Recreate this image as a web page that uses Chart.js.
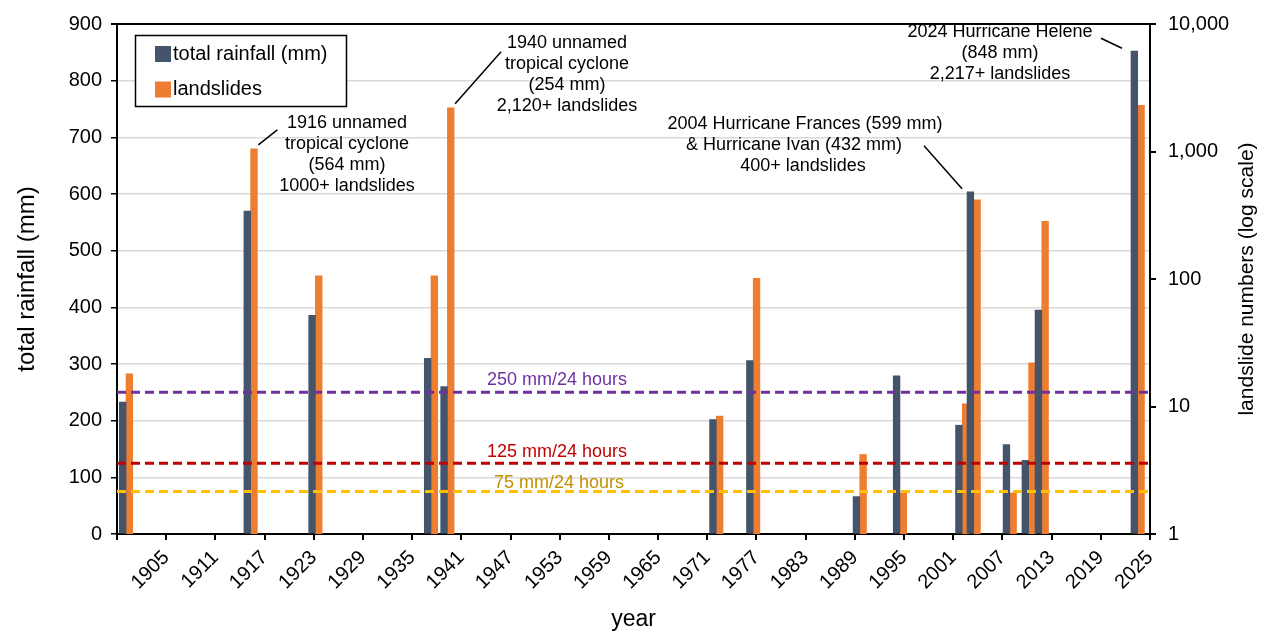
<!DOCTYPE html>
<html>
<head>
<meta charset="utf-8">
<script src="https://cdn.jsdelivr.net/npm/chart.js@4.4.1/dist/chart.umd.min.js"></script>
<style>
  html, body { margin: 0; padding: 0; background: #fff; }
  #wrap { width: 1261px; height: 631px; }
</style>
</head>
<body>
<div id="wrap"><canvas id="grafica" width="1261" height="631"></canvas></div>
<script>
// event years (position on the year axis)
var years = [1900.6, 1915.8, 1923.7, 1937.8, 1939.8, 1972.6, 1977.1, 1990.1, 1995.0, 2002.6, 2004.0, 2008.4, 2010.7, 2012.3, 2024.0];
// total rainfall in mm (left axis)
var rainfall = [233, 570, 386, 310, 260, 202, 306, 66, 279, 192, 604, 158, 130, 395, 852];
// landslide counts (right axis, log)
var landslides = [18, 1050, 106, 106, 2200, 8.4, 101, 4.2, 2.1, 10.5, 417, 2.1, 22, 283, 2307];

var yearLabels = [1905, 1911, 1917, 1923, 1929, 1935, 1941, 1947, 1953, 1959, 1965, 1971, 1977, 1983, 1989, 1995, 2001, 2007, 2013, 2019, 2025];
var rainTicks = [0, 100, 200, 300, 400, 500, 600, 700, 800, 900];
var slideTicks = [1, 10, 100, 1000, 10000];

var thresholds = [250, 125, 75];
var thresholdText = ["250 mm/24 hours", "125 mm/24 hours", "75 mm/24 hours"];

var FONT = '"Liberation Sans", Arial, sans-serif';
var firstYear = 1899.5;
var lastYear = 2025.5;

function pts(vals) {
    var out = [];
    for (var i = 0; i < years.length; i++) {
        out.push({x: years[i], y: vals[i]});
    }
    return out;
}

function flatLine(v) {
    return [{x: firstYear, y: v}, {x: lastYear, y: v}];
}

var lineColors = ["#7030A0", "#C00000", "#FFC000"];
var textColors = ["#7030A0", "#C00000", "#BF9000"];

// notes with leader lines
var notas = [
    {idx: 1, ds: 1, lines: ["1916 unnamed", "tropical cyclone", "(564 mm)", "1000+ landslides"],
     cx: [347, 347, 347, 347], y0: 123, from: "right", d: [1, -4], to: [19, -15]},
    {idx: 4, ds: 1, lines: ["1940 unnamed", "tropical cyclone", "(254 mm)", "2,120+ landslides"],
     cx: [567, 567, 567, 567], y0: 43, from: "right", d: [1, -4], to: [46, -52]},
    {idx: 10, ds: 0, lines: ["2004 Hurricane Frances (599 mm)", "& Hurricane Ivan (432 mm)", "400+ landslides"],
     cx: [805, 794, 803], y0: 124.5, from: "left", d: [-5, -3], to: [-38, -43]},
    {idx: 14, ds: 0, lines: ["2024 Hurricane Helene", "(848 mm)", "2,217+ landslides"],
     cx: [1000, 1000, 1000], y0: 32.5, from: "left", d: [-9, -3], to: [-21, -10]}
];

var extras = {
    id: "extras",
    afterDatasetsDraw: function (chart) {
        var ctx = chart.ctx;
        var ys = chart.scales.y;
        ctx.save();

        // threshold labels
        ctx.font = "18px " + FONT;
        ctx.textAlign = "center";
        ctx.textBaseline = "middle";
        var offs = [12, 11.5, 8];
        var cxs = [557, 557, 559];
        for (var i = 0; i < thresholds.length; i++) {
            ctx.fillStyle = textColors[i];
            ctx.fillText(thresholdText[i], cxs[i], ys.getPixelForValue(thresholds[i]) - offs[i]);
        }

        // notes
        ctx.fillStyle = "#000";
        for (var n = 0; n < notas.length; n++) {
            var nt = notas[n];
            for (var k = 0; k < nt.lines.length; k++) {
                ctx.fillText(nt.lines[k], nt.cx[k], nt.y0 + k * 21);
            }
            var el = chart.getDatasetMeta(nt.ds).data[nt.idx];
            var ex = nt.from == "right" ? el.x + el.width / 2 : el.x - el.width / 2;
            var sx = ex + nt.d[0];
            var sy = el.y + nt.d[1];
            ctx.beginPath();
            ctx.strokeStyle = "#000";
            ctx.lineWidth = 1.5;
            ctx.moveTo(sx, sy);
            ctx.lineTo(sx + nt.to[0], sy + nt.to[1]);
            ctx.stroke();
        }

        // legend box
        ctx.strokeStyle = "#000";
        ctx.lineWidth = 1.5;
        ctx.fillStyle = "#fff";
        ctx.fillRect(135.5, 35.5, 211, 71);
        ctx.strokeRect(135.5, 35.5, 211, 71);
        ctx.font = "20px " + FONT;
        ctx.textAlign = "left";
        var ds = chart.data.datasets;
        for (var j = 0; j < 2; j++) {
            var yy = 46 + j * 35.5;
            ctx.fillStyle = ds[j].backgroundColor;
            ctx.fillRect(155, yy, 16, 16);
            ctx.fillStyle = "#000";
            ctx.fillText(ds[j].label, 173, yy + 8);
        }
        ctx.restore();
    },
    afterDraw: function (chart) {
        var ctx = chart.ctx;
        var area = chart.chartArea;
        var midY = (area.top + area.bottom) / 2;
        ctx.save();
        ctx.fillStyle = "#000";
        ctx.font = "23px " + FONT;
        ctx.textAlign = "center";
        ctx.textBaseline = "middle";
        ctx.fillText("year", (area.left + area.right) / 2, 620);

        ctx.font = "24px " + FONT;
        ctx.translate(27, midY);
        ctx.rotate(-Math.PI / 2);
        ctx.fillText("total rainfall (mm)", 0, 0);
        ctx.restore();

        ctx.save();
        ctx.fillStyle = "#000";
        ctx.font = "21px " + FONT;
        ctx.textAlign = "center";
        ctx.textBaseline = "middle";
        ctx.translate(1247, midY);
        ctx.rotate(-Math.PI / 2);
        ctx.fillText("landslide numbers (log scale)", 0, 0);
        ctx.restore();
    }
};

var datasets = [
    {
        type: "bar",
        label: "total rainfall (mm)",
        data: pts(rainfall),
        yAxisID: "y",
        backgroundColor: "#44546A",
        barThickness: 6.7,
        order: 2
    },
    {
        type: "bar",
        label: "landslides",
        data: pts(landslides),
        yAxisID: "y1",
        backgroundColor: "#ED7D31",
        barThickness: 6.7,
        order: 2
    }
];
for (var t = 0; t < thresholds.length; t++) {
    datasets.push({
        type: "line",
        label: thresholdText[t],
        data: flatLine(thresholds[t]),
        yAxisID: "y",
        borderColor: lineColors[t],
        borderWidth: 3,
        borderDash: [9, 5],
        pointRadius: 0,
        fill: false,
        order: 1
    });
}

var miCanvas = document.getElementById("grafica").getContext("2d");

var chart = new Chart(miCanvas, {
    type: "bar",
    data: {datasets: datasets},
    options: {
        responsive: false,
        animation: false,
        events: [],
        layout: {padding: {top: 19, left: 0, right: 0, bottom: 0}},
        plugins: {
            legend: {display: false},
            tooltip: {enabled: false}
        },
        scales: {
            x: {
                type: "linear",
                min: firstYear,
                max: lastYear,
                offset: false,
                afterBuildTicks: function (s) {
                    var tk = [{value: firstYear}];
                    for (var i = 0; i < yearLabels.length; i++) tk.push({value: yearLabels[i] + 0.5});
                    s.ticks = tk;
                },
                afterFit: function (s) { s.height = 97; },
                ticks: {
                    autoSkip: false,
                    minRotation: 45,
                    maxRotation: 45,
                    padding: 6,
                    color: "#000",
                    font: {family: FONT, size: 20},
                    callback: function (v) {
                        if (v == firstYear) return "";
                        return String(Math.round(v - 0.5));
                    }
                },
                grid: {display: true, drawOnChartArea: false, drawTicks: true, tickLength: 6, tickColor: "#000", lineWidth: 2, offset: false},
                border: {display: true, color: "#000", width: 2}
            },
            y: {
                position: "left",
                min: 0,
                max: 900,
                afterBuildTicks: function (s) {
                    s.ticks = rainTicks.map(function (v) { return {value: v}; });
                },
                afterFit: function (s) { s.width = 117; },
                ticks: {
                    color: "#000",
                    padding: 9,
                    font: {family: FONT, size: 20}
                },
                grid: {
                    color: function (c) { return c.tick && c.tick.value == 900 ? "#000" : "#D9D9D9"; },
                    lineWidth: function (c) { return c.tick && c.tick.value == 900 ? 2 : 1.5; },
                    tickColor: "#000",
                    tickLength: 6
                },
                border: {display: true, color: "#000", width: 2}
            },
            y1: {
                type: "logarithmic",
                position: "right",
                min: 1,
                max: 10000,
                afterBuildTicks: function (s) {
                    s.ticks = slideTicks.map(function (v) { return {value: v}; });
                },
                afterFit: function (s) { s.width = 111; },
                ticks: {
                    color: "#000",
                    padding: 12,
                    font: {family: FONT, size: 20},
                    callback: function (v) { return Number(v).toLocaleString("en-US"); }
                },
                grid: {drawOnChartArea: false, tickColor: "#000", tickLength: 6, lineWidth: 2},
                border: {display: true, color: "#000", width: 2}
            }
        }
    },
    plugins: [extras]
});
</script>
</body>
</html>
